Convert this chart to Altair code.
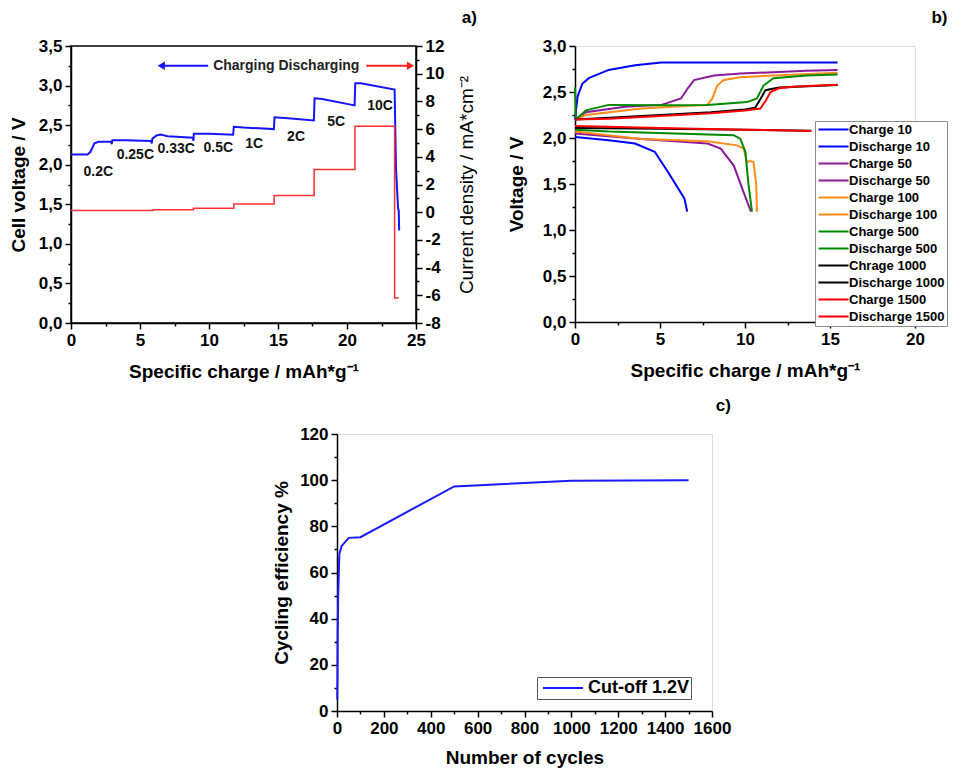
import altair as alt
import pandas as pd

FONT = "Liberation Sans"

# ---------------- Panel a data ----------------
a_x = [0, 1.2, 1.4, 1.7, 2.0, 2.9, 2.95, 3.0, 4.0, 5.8, 5.85, 5.9, 6.2, 6.5, 7.0, 8.85, 8.87, 8.9,
       10.0, 11.75, 11.8, 12.5, 14.7, 14.75, 15.5, 17.6, 17.65, 18.2, 20.55, 20.6, 21.0, 23.45,
       23.55, 23.7, 23.75, 23.78]
a_v = [2.13, 2.13, 2.16, 2.27, 2.29, 2.29, 2.26, 2.31, 2.31, 2.30, 2.27, 2.33, 2.37, 2.38, 2.36, 2.34, 2.30, 2.39,
       2.39, 2.38, 2.48, 2.47, 2.45, 2.60, 2.59, 2.56, 2.84, 2.83, 2.75, 3.03, 3.03, 2.95,
       1.95, 1.45, 1.42, 1.17]
j_x = [0, 5.95, 5.95, 8.87, 8.87, 11.8, 11.8, 14.72, 14.72, 17.62, 17.62, 20.58, 20.58, 23.45, 23.45, 23.75]
j_v = [0.12, 0.12, 0.17, 0.17, 0.29, 0.29, 0.6, 0.6, 1.2, 1.2, 3.08, 3.08, 6.21, 6.21, -6.2, -6.2]

rate_lbl = ["0.2C", "0.25C", "0.33C", "0.5C", "1C", "2C", "5C", "10C"]
rate_x = [1.98, 4.66, 7.62, 10.67, 13.27, 16.31, 19.21, 22.4]
rate_y = [1.91, 2.12, 2.20, 2.21, 2.26, 2.35, 2.54, 2.74]

arrow_lbl = "Charging Discharging"
arrow_lbl_x = 15.6
arrow_y = 3.25
blue_arrow_x = [6.54, 9.94]
red_arrow_x = [21.4, 24.6]

# ---------------- Panel b data ----------------
b_names = ["Charge 10", "Discharge 10", "Charge 50", "Discharge 50", "Charge 100", "Discharge 100",
           "Charge 500", "Discharge 500", "Chrage 1000", "Discharge 1000", "Charge 1500", "Discharge 1500"]
b_colors = ["#0000ff", "#0000ff", "#8b1a9b", "#8b1a9b", "#ff8c1a", "#ff8c1a",
            "#008a00", "#008a00", "#000000", "#000000", "#ff0000", "#ff0000"]

c10_x = [0, 0.15, 0.43, 0.81, 1.98, 3.53, 5.08, 7.5, 10, 12.5, 15.45]
c10_v = [2.2, 2.45, 2.59, 2.65, 2.74, 2.79, 2.82, 2.82, 2.82, 2.82, 2.82]
d10_x = [0, 1.98, 3.53, 4.69, 5.47, 6.44, 6.6]
d10_v = [2.01, 1.975, 1.94, 1.85, 1.63, 1.34, 1.2]
c50_x = [0, 0.64, 2.95, 5.08, 6.24, 6.63, 7.0, 8.18, 9.73, 13.6, 15.45]
c50_v = [2.2, 2.28, 2.34, 2.36, 2.43, 2.54, 2.63, 2.68, 2.70, 2.73, 2.74]
d50_x = [0, 3.92, 7.79, 8.57, 9.34, 9.92, 10.35]
d50_v = [2.05, 1.99, 1.94, 1.885, 1.70, 1.41, 1.2]
c100_x = [0, 0.64, 3.92, 7.79, 8.08, 8.37, 8.76, 9.73, 11.67, 15.45]
c100_v = [2.2, 2.25, 2.32, 2.36, 2.43, 2.57, 2.63, 2.66, 2.68, 2.71]
d100_x = [0, 3.92, 7.79, 9.54, 9.92, 10.12, 10.3, 10.5, 10.66, 10.7]
d100_v = [2.07, 1.99, 1.965, 1.92, 1.885, 1.74, 1.75, 1.74, 1.49, 1.2]
c500_x = [0, 0.05, 0.64, 1.98, 5.0, 7.79, 10.12, 10.7, 11.09, 11.67, 13.6, 15.45]
c500_v = [2.55, 2.2, 2.3, 2.36, 2.355, 2.36, 2.39, 2.43, 2.57, 2.65, 2.68, 2.69]
d500_x = [0, 1.98, 5.85, 9.34, 9.73, 10.02, 10.21, 10.41]
d500_v = [2.09, 2.07, 2.05, 2.03, 1.99, 1.85, 1.49, 1.2]
c1000_x = [0, 2, 5, 8, 10, 10.6, 10.9, 11.2, 12, 15.45]
c1000_v = [2.2, 2.22, 2.25, 2.28, 2.31, 2.33, 2.42, 2.52, 2.55, 2.575]
d1000_x = [0, 5, 10, 13.9]
d1000_v = [2.11, 2.1, 2.09, 2.08]
c1500_x = [0, 2, 5, 8, 10, 10.9, 11.2, 11.5, 12, 13, 15.45]
c1500_v = [2.2, 2.21, 2.24, 2.27, 2.30, 2.32, 2.4, 2.5, 2.54, 2.56, 2.58]
d1500_x = [0, 5, 10, 13.9]
d1500_v = [2.13, 2.11, 2.09, 2.075]

b_series = [
    ("Charge 10", c10_x, c10_v), ("Discharge 10", d10_x, d10_v),
    ("Charge 50", c50_x, c50_v), ("Discharge 50", d50_x, d50_v),
    ("Charge 100", c100_x, c100_v), ("Discharge 100", d100_x, d100_v),
    ("Charge 500", c500_x, c500_v), ("Discharge 500", d500_x, d500_v),
    ("Chrage 1000", c1000_x, c1000_v), ("Discharge 1000", d1000_x, d1000_v),
    ("Charge 1500", c1500_x, c1500_v), ("Discharge 1500", d1500_x, d1500_v),
]

# ---------------- Panel c data ----------------
cyc = [1, 2, 3, 5, 10, 20, 50, 100, 500, 1000, 1500]
eff = [5, 15, 33, 50, 68, 71.5, 75, 75.3, 97.3, 99.8, 100]
c_series = "Cut-off 1.2V"

# ---------------- helpers ----------------
def is_minor(major):
    return f"abs(datum.value/{major} - round(datum.value/{major})) > 0.001"

def tick_size(major):
    return {"condition": {"test": is_minor(major), "value": 3}, "value": 6}

def label_expr(major, fmt, comma=False):
    body = f"replace(format(datum.value, '{fmt}'), '\u2212', '-')"
    if comma:
        body = f"replace({body}, '.', ',')"
    return f"{is_minor(major)} ? '' : {body}"

AX = dict(labelFont=FONT, labelFontSize=17, labelFontWeight="bold", labelColor="black",
          titleFont=FONT, titleFontSize=19, titleFontWeight="bold", titleColor="black",
          domainColor="black", domainWidth=1.5, tickColor="black", tickWidth=1.5,
          grid=False, labelFlush=False, labelOverlap=False, labelPadding=3)

def frange(a, b, s):
    out = []
    v = a
    while v <= b + 1e-9:
        out.append(round(v, 4))
        v += s
    return out

# ---------------- Panel a ----------------
df_a = pd.DataFrame({"i": list(range(len(a_x))), "x": a_x, "v": a_v})
df_j = pd.DataFrame({"i": list(range(len(j_x))), "x": j_x, "j": j_v})
df_rate = pd.DataFrame({"lbl": rate_lbl, "x": rate_x, "v": rate_y})
df_barrow = pd.DataFrame({"x": [blue_arrow_x[0]], "x2": [blue_arrow_x[1]], "v": [arrow_y]})
df_rarrow = pd.DataFrame({"x": [red_arrow_x[0]], "x2": [red_arrow_x[1]], "v": [arrow_y]})
df_bhead = pd.DataFrame({"x": [blue_arrow_x[0]], "v": [arrow_y]})
df_rhead = pd.DataFrame({"x": [red_arrow_x[1]], "v": [arrow_y]})
df_albl = pd.DataFrame({"lbl": [arrow_lbl], "x": [arrow_lbl_x], "v": [arrow_y]})

xs_a = alt.Scale(domain=[0, 25], nice=False)
ys_a = alt.Scale(domain=[0, 3.5], nice=False)
ys_j = alt.Scale(domain=[-8, 12], nice=False)

ax_ax = alt.Axis(title="Specific charge / mAh*g⁻¹", values=frange(0, 25, 2.5),
                 labelExpr=label_expr(5, "d"), tickSize=tick_size(5), titlePadding=14, **AX)
ax_ay = alt.Axis(title="Cell voltage / V", values=frange(0, 3.5, 0.25),
                 labelExpr=label_expr(0.5, ".1f", True), tickSize=tick_size(0.5), titlePadding=10, **AX)

XA = alt.X("x:Q", scale=xs_a, axis=ax_ax)
YA = alt.Y("v:Q", scale=ys_a, axis=ax_ay)

blue = alt.Chart(df_a).mark_line(color="#1414ff", strokeWidth=2).encode(x=XA, y=YA, order="i:Q")
blue_arrow = alt.Chart(df_barrow).mark_rule(color="#1414ff", strokeWidth=2).encode(x=XA, x2="x2:Q", y=YA)
red_arrow = alt.Chart(df_rarrow).mark_rule(color="#ff2020", strokeWidth=2).encode(x=XA, x2="x2:Q", y=YA)
bhead = alt.Chart(df_bhead).mark_point(shape="triangle-left", filled=True, size=70, color="#1414ff",
                                       opacity=1).encode(x=XA, y=YA)
rhead = alt.Chart(df_rhead).mark_point(shape="triangle-right", filled=True, size=70, color="#ff2020",
                                       opacity=1).encode(x=XA, y=YA)
albl = alt.Chart(df_albl).mark_text(font=FONT, fontSize=14, fontWeight="bold", color="#222222").encode(
    x=XA, y=YA, text="lbl:N")
rates = alt.Chart(df_rate).mark_text(font=FONT, fontSize=14, fontWeight="bold", color="#111111").encode(
    x=XA, y=YA, text="lbl:N")

left_group = alt.layer(blue, blue_arrow, red_arrow, bhead, rhead, albl, rates)

red = alt.Chart(df_j).mark_line(color="#ff3030", strokeWidth=1.5).encode(
    x=XA,
    y=alt.Y("j:Q", scale=ys_j, axis=alt.Axis(
        orient="right", title="Current density / mA*cm⁻²", values=list(range(-8, 13)),
        labelExpr=label_expr(2, "d"), tickSize=tick_size(2), titlePadding=14,
        titleAngle=270, titleBaseline="top", **{**AX, "titleFontWeight": "normal"})),
    order="i:Q",
)

panel_a = alt.layer(left_group, red).resolve_scale(y="independent").properties(
    width=345, height=277,
    view=alt.ViewBackground(stroke="black", strokeWidth=1.5),
    title=alt.TitleParams("a)", anchor="end", font=FONT, fontSize=17, fontWeight="bold",
                          color="black", offset=10),
)

# ---------------- Panel b ----------------
rows = []
for name, xs, vs in b_series:
    for k, (xv, vv) in enumerate(zip(xs, vs)):
        rows.append({"s": name, "i": k, "x": xv, "v": vv})
df_b = pd.DataFrame(rows)

panel_b = alt.Chart(df_b).mark_line(strokeWidth=2).encode(
    x=alt.X("x:Q", scale=alt.Scale(domain=[0, 20], nice=False), axis=alt.Axis(
        title="Specific charge / mAh*g⁻¹", values=frange(0, 20, 2.5),
        labelExpr=label_expr(5, "d"), tickSize=tick_size(5), titlePadding=14, **AX)),
    y=alt.Y("v:Q", scale=alt.Scale(domain=[0, 3.0], nice=False), axis=alt.Axis(
        title="Voltage / V", values=frange(0, 3.0, 0.25),
        labelExpr=label_expr(0.5, ".1f", True), tickSize=tick_size(0.5), titlePadding=16, **AX)),
    color=alt.Color("s:N", scale=alt.Scale(domain=b_names, range=b_colors), legend=alt.Legend(
        title=None, orient="none", legendX=240, legendY=75, direction="vertical",
        fillColor="white", strokeColor="#8c8c8c", padding=2,
        symbolType="M-3,0H3", symbolSize=100, symbolStrokeWidth=2, symbolOffset=10, labelOffset=9,
        labelFont=FONT, labelFontSize=13, labelFontWeight="bold", labelColor="black",
        rowPadding=3, labelLimit=200)),
    order="i:Q",
).properties(
    width=340, height=276,
    title=alt.TitleParams("b)", anchor="end", font=FONT, fontSize=17, fontWeight="bold",
                          color="black", offset=10),
)

# ---------------- Panel c ----------------
df_c = pd.DataFrame({"n": cyc, "e": eff, "s": [c_series] * len(cyc)})
panel_c = alt.Chart(df_c).mark_line(strokeWidth=2).encode(
    x=alt.X("n:Q", scale=alt.Scale(domain=[0, 1600], nice=False), axis=alt.Axis(
        title="Number of cycles", values=frange(0, 1600, 100),
        labelExpr=label_expr(200, "d"), tickSize=tick_size(200), titlePadding=12, **AX)),
    y=alt.Y("e:Q", scale=alt.Scale(domain=[0, 120], nice=False), axis=alt.Axis(
        title="Cycling efficiency %", values=frange(0, 120, 10),
        labelExpr=label_expr(20, "d"), tickSize=tick_size(20), titlePadding=8, **AX)),
    color=alt.Color("s:N", scale=alt.Scale(domain=[c_series], range=["#1a1aff"]), legend=alt.Legend(
        title=None, orient="none", legendX=200, legendY=243,
        fillColor="white", strokeColor="#555555", padding=2,
        symbolType="M-4,0H4", symbolSize=100, symbolStrokeWidth=2, symbolOffset=15, labelOffset=16,
        labelFont=FONT, labelFontSize=18, labelFontWeight="bold", labelColor="black")),
).properties(
    width=375, height=277,
    title=alt.TitleParams("c)", anchor="end", font=FONT, fontSize=17, fontWeight="bold",
                          color="black", offset=10),
)

# invisible spacer that pushes panel c to the right
spacer = alt.Chart(pd.DataFrame({"s": [""]})).mark_text().encode(text="s:N").properties(width=201, height=10)

top = alt.hconcat(panel_a, panel_b, spacing=28).resolve_scale(color="independent")
bottom = alt.hconcat(spacer, panel_c, spacing=0).resolve_scale(color="independent")
chart = alt.vconcat(top, bottom, spacing=14).resolve_scale(
    color="independent"
).properties(
    padding=0
).configure_view(strokeWidth=0).configure(font=FONT)

chart.save("out.html", embed_options={"renderer": "svg", "actions": False})
